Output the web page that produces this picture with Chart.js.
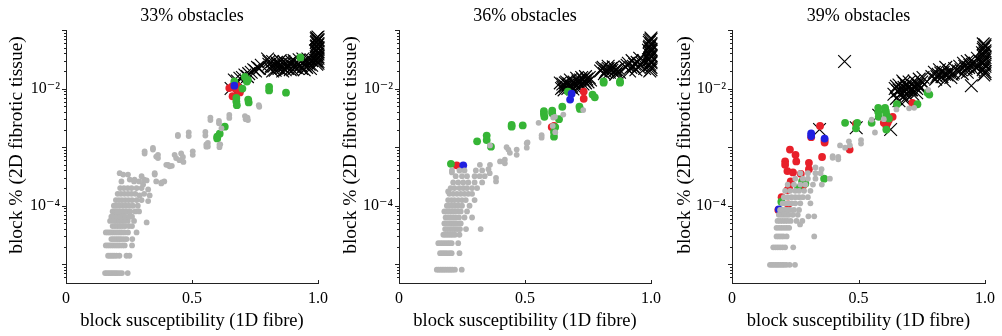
<!DOCTYPE html>
<html>
<head>
<meta charset="utf-8">
<script src="https://cdn.jsdelivr.net/npm/chart.js@4.4.1/dist/chart.umd.min.js"></script>
<style>
  html, body { margin: 0; padding: 0; background: #fff; }
  #wrap { position: relative; width: 1002px; height: 336px; }
  canvas { position: absolute; top: 0; }
</style>
</head>
<body>
<div id="wrap">
  <canvas id="p33" width="334" height="336" style="left:0px"></canvas>
  <canvas id="p36" width="334" height="336" style="left:334px"></canvas>
  <canvas id="p39" width="334" height="336" style="left:668px"></canvas>
</div>
<script>
// [block susceptibility, block %] pairs per obstacle density
const titles = ['33% obstacles', '36% obstacles', '39% obstacles'];
const xTickLabels = ['0', '0.5', '1.0'];
const yTickLabels = { '-2': '10⁻²', '-4': '10⁻⁴' };
const xTitle = 'block susceptibility (1D fibre)';
const yTitle = 'block % (2D fibrotic tissue)';

const grey33 = [
  [0.155,7.1e-6],[0.162,7.1e-6],[0.169,7.1e-6],[0.176,7.1e-6],[0.183,7.1e-6],[0.19,7.1e-6],[0.197,7.1e-6],[0.204,7.1e-6],[0.213,7.1e-6],[0.222,7.1e-6],[0.245,7.1e-6],
  [0.167,1.4e-5],[0.175,1.4e-5],[0.183,1.4e-5],[0.191,1.4e-5],[0.2,1.4e-5],[0.212,1.4e-5],[0.24,1.4e-5],[0.252,1.4e-5],
  [0.158,2.1e-5],[0.166,2.1e-5],[0.174,2.1e-5],[0.182,2.1e-5],[0.19,2.1e-5],[0.198,2.1e-5],[0.206,2.1e-5],[0.214,2.1e-5],[0.224,2.1e-5],[0.233,2.1e-5],[0.262,2.1e-5],
  [0.18,2.7e-5],[0.188,2.7e-5],[0.196,2.7e-5],[0.204,2.7e-5],[0.212,2.7e-5],[0.22,2.7e-5],[0.23,2.7e-5],[0.24,2.7e-5],[0.263,2.7e-5],
  [0.158,3.5e-5],[0.166,3.5e-5],[0.174,3.5e-5],[0.182,3.5e-5],[0.19,3.5e-5],[0.198,3.5e-5],[0.206,3.5e-5],[0.214,3.5e-5],[0.222,3.5e-5],[0.232,3.5e-5],[0.246,3.5e-5],[0.28,3.5e-5],
  [0.185,4.5e-5],[0.195,4.5e-5],[0.205,4.5e-5],[0.215,4.5e-5],[0.225,4.5e-5],[0.235,4.5e-5],[0.25,4.5e-5],[0.262,4.5e-5],
  [0.175,5.5e-5],[0.19,5.5e-5],[0.2,5.5e-5],[0.21,5.5e-5],[0.22,5.5e-5],[0.232,5.5e-5],[0.245,5.5e-5],[0.27,5.5e-5],[0.32,5.2e-5],
  [0.18,6.5e-5],[0.192,6.5e-5],[0.203,6.5e-5],[0.213,6.5e-5],[0.223,6.5e-5],[0.235,6.5e-5],[0.25,6.5e-5],[0.262,6.5e-5],
  [0.185,8e-5],[0.195,8e-5],[0.205,8e-5],[0.215,8e-5],[0.227,8e-5],[0.24,8e-5],[0.255,8e-5],[0.275,8e-5],[0.29,8e-5],
  [0.19,1e-4],[0.2,1e-4],[0.212,1e-4],[0.225,1e-4],[0.237,1e-4],[0.25,1e-4],[0.265,1e-4],[0.285,1e-4],
  [0.198,1.25e-4],[0.21,1.25e-4],[0.222,1.25e-4],[0.235,1.25e-4],[0.248,1.25e-4],[0.262,1.25e-4],[0.28,1.25e-4],[0.3,1.25e-4],[0.326,1.2e-4],
  [0.205,1.6e-4],[0.218,1.6e-4],[0.232,1.6e-4],[0.246,1.6e-4],[0.26,1.6e-4],[0.275,1.6e-4],[0.292,1.5e-4],[0.31,1.6e-4],[0.332,1.5e-4],
  [0.215,2e-4],[0.23,2e-4],[0.245,2e-4],[0.26,2e-4],[0.28,2e-4],[0.3,2e-4],[0.326,1.9e-4],
  [0.22,2.6e-4],[0.253,2.8e-4],[0.27,2.6e-4],[0.29,2.6e-4],[0.306,2.3e-4],[0.358,2.6e-4],
  [0.213,3.6e-4],[0.246,3.4e-4],[0.3,3.2e-4],[0.352,3.4e-4],[0.378,2.4e-4],[0.227,3.4e-4],[0.272,2.8e-4],[0.31,2.8e-4],[0.32,2.7e-4],
  [0.352,3.6e-4],[0.38,2.5e-4],[0.39,2.6e-4],[0.405,5e-4],[0.42,4.8e-4],
  [0.312,8.5e-4],[0.312,7.8e-4],[0.345,9.7e-4],[0.345,9.1e-4],[0.365,7.4e-4],[0.365,6.5e-4],[0.358,6.9e-4],[0.398,5e-4],[0.411,4.7e-4],
  [0.431,7.4e-4],[0.437,6.5e-4],[0.45,6e-4],[0.457,7.8e-4],[0.464,6.8e-4],[0.466,5.6e-4],[0.503,8.5e-4],[0.503,7.4e-4],
  [0.563,1.18e-3],[0.563,1.03e-3],[0.609,1.1e-3],[0.609,1.0e-3],[0.612,1.12e-3],
  [0.444,1.62e-3],[0.444,1.55e-3],[0.487,1.78e-3],[0.487,1.55e-3],[0.553,1.82e-3],[0.553,1.58e-3],[0.557,1.12e-3],[0.557,1.02e-3],
  [0.573,3.2e-3],[0.573,2.9e-3],[0.607,2.8e-3],[0.607,2.55e-3],[0.617,2.1e-3],[0.648,3.55e-3],[0.648,3.15e-3],
  [0.71,3.4e-3],[0.713,3.0e-3],[0.72,3.2e-3],[0.722,2.9e-3],[0.765,5.2e-3],[0.767,4.9e-3]
];
const green33 = [
  [0.93,3.4e-2],[0.668,1.32e-2],[0.71,1.58e-2],[0.718,1.32e-2],[0.722,1.41e-2],[0.806,1.07e-2],[0.806,9.3e-3],[0.873,8.5e-3],
  [0.70,1.0e-2],[0.676,6.9e-3],[0.676,6.0e-3],[0.678,5.2e-3],[0.723,6.5e-3],[0.725,5.8e-3],
  [0.63,2.24e-3],[0.61,1.7e-3],[0.60,1.51e-3],[0.60,1.41e-3]
];
const red33 = [
  [0.648,1.02e-2],[0.661,1.1e-2],[0.681,1.1e-2],[0.694,9.6e-3],[0.675,7.4e-3],[0.661,7.4e-3],[0.69,8.6e-3],[0.672,1.0e-2]
];
const blue33 = [[0.668,1.12e-2]];
const cross33 = [
  [0.655,1.0e-2],[0.668,1.4e-2],[0.68,1.35e-2],[0.69,1.5e-2],[0.70,1.55e-2],[0.71,1.7e-2],[0.72,1.6e-2],[0.725,1.8e-2],
  [0.735,1.9e-2],[0.745,2.1e-2],[0.752,2.0e-2],[0.76,2.3e-2],[0.768,2.2e-2],[0.775,2.5e-2],
  [0.80,3.2e-2],[0.805,2.6e-2],[0.81,2.2e-2],[0.82,2.9e-2],[0.825,2.4e-2],[0.83,2.05e-2],[0.84,2.6e-2],[0.845,2.2e-2],
  [0.85,3.0e-2],[0.855,2.4e-2],[0.86,2.0e-2],[0.87,2.7e-2],[0.875,2.3e-2],[0.88,2.55e-2],[0.89,2.1e-2],[0.895,2.9e-2],
  [0.9,2.4e-2],[0.91,2.65e-2],[0.92,2.2e-2],[0.925,3.1e-2],[0.93,2.5e-2],[0.94,2.8e-2],[0.945,2.1e-2],[0.95,2.4e-2],
  [0.96,3.2e-2],[0.965,2.6e-2],[0.97,2.2e-2],
  [0.805,2.9e-2],[0.815,2.45e-2],[0.82,2.0e-2],[0.835,2.8e-2],[0.84,2.3e-2],[0.85,2.6e-2],[0.86,2.3e-2],[0.865,2.9e-2],
  [0.87,2.1e-2],[0.88,2.2e-2],[0.885,2.7e-2],[0.9,2.1e-2],[0.905,3.0e-2],[0.91,2.3e-2],[0.92,2.6e-2],[0.935,2.2e-2],
  [0.94,3.2e-2],[0.95,2.7e-2],[0.955,2.3e-2],[0.96,2.9e-2],[0.975,2.5e-2],[0.975,3.0e-2],
  [0.995,2.6e-2],[1.0,2.9e-2],[0.995,3.2e-2],[1.0,3.5e-2],[0.995,3.8e-2],[1.0,4.2e-2],[0.995,4.6e-2],[1.0,5.0e-2],
  [0.995,5.4e-2],[1.0,5.9e-2],[0.995,6.4e-2],[1.0,6.9e-2],[0.995,7.4e-2],[0.99,3.0e-2],[0.99,4.4e-2],
  [1.0,2.7e-2],[0.993,3.0e-2],[1.0,3.3e-2],[0.993,3.5e-2],[1.0,3.9e-2],[0.993,4.4e-2],[1.0,4.8e-2],[0.993,5.2e-2],
  [1.0,5.6e-2],[0.993,6.1e-2],[1.0,6.6e-2],[0.993,7.1e-2],[1.0,7.6e-2]
];

const grey36 = [
  [0.15,8.1e-6],[0.157,8.1e-6],[0.164,8.1e-6],[0.171,8.1e-6],[0.178,8.1e-6],[0.185,8.1e-6],[0.192,8.1e-6],[0.199,8.1e-6],[0.206,8.1e-6],[0.213,8.1e-6],[0.222,8.1e-6],[0.249,8.1e-6],
  [0.163,1.55e-5],[0.172,1.55e-5],[0.181,1.55e-5],[0.19,1.55e-5],[0.2,1.55e-5],[0.209,1.55e-5],[0.24,1.55e-5],
  [0.156,2.3e-5],[0.165,2.3e-5],[0.174,2.3e-5],[0.183,2.3e-5],[0.192,2.3e-5],[0.2,2.3e-5],[0.209,2.3e-5],[0.235,2.3e-5],
  [0.176,3.2e-5],[0.185,3.2e-5],[0.194,3.2e-5],[0.203,3.2e-5],[0.212,3.2e-5],[0.222,3.2e-5],[0.24,3.2e-5],
  [0.183,4e-5],[0.193,4e-5],[0.203,4e-5],[0.213,4e-5],[0.222,4e-5],[0.232,4e-5],[0.242,4e-5],[0.266,4e-5],[0.324,4e-5],
  [0.18,5e-5],[0.19,5e-5],[0.2,5e-5],[0.21,5e-5],[0.22,5e-5],[0.23,5e-5],[0.245,5e-5],
  [0.185,6.3e-5],[0.195,6.3e-5],[0.205,6.3e-5],[0.215,6.3e-5],[0.225,6.3e-5],[0.238,6.3e-5],[0.26,6.3e-5],[0.29,6.3e-5],
  [0.18,8e-5],[0.19,8e-5],[0.2,8e-5],[0.21,8e-5],[0.22,8e-5],[0.232,8e-5],[0.245,8e-5],[0.27,8e-5],
  [0.19,1e-4],[0.2,1e-4],[0.212,1e-4],[0.224,1e-4],[0.236,1e-4],[0.25,1e-4],[0.28,1e-4],
  [0.195,1.25e-4],[0.208,1.25e-4],[0.22,1.25e-4],[0.235,1.25e-4],[0.25,1.25e-4],[0.265,1.25e-4],[0.3,1.25e-4],
  [0.2,1.6e-4],[0.215,1.6e-4],[0.23,1.6e-4],[0.245,1.6e-4],[0.26,1.6e-4],[0.275,1.6e-4],[0.29,1.6e-4],[0.195,1.75e-4],
  [0.205,2e-4],[0.22,2e-4],[0.24,2e-4],[0.255,2e-4],[0.27,2e-4],[0.29,2e-4],[0.31,2e-4],
  [0.215,2.5e-4],[0.235,2.5e-4],[0.255,2.5e-4],[0.275,2.5e-4],[0.3,2.5e-4],[0.33,2.5e-4],
  [0.225,3.2e-4],[0.25,3.2e-4],[0.27,3.2e-4],[0.3,3.2e-4],[0.32,3.2e-4],[0.34,3.2e-4],
  [0.21,3.7e-4],[0.21,4.0e-4],[0.24,4e-4],[0.26,4e-4],[0.305,4e-4],[0.33,4e-4],[0.355,4.2e-4],[0.36,3.6e-4],[0.385,2.6e-4],[0.385,3.0e-4],
  [0.321,5e-4],[0.361,5e-4],[0.401,5.7e-4],[0.42,6.1e-4],[0.42,5.3e-4],[0.434,9.1e-4],[0.44,8e-4],[0.467,9.1e-4],[0.467,7.4e-4],
  [0.507,1.17e-3],[0.507,9.8e-4],[0.427,1.0e-3],[0.361,1.07e-3],[0.51,1.2e-3],
  [0.554,2.6e-3],[0.566,1.6e-3],[0.566,1.45e-3],[0.612,3.2e-3],[0.619,3.3e-3],[0.652,3.6e-3],[0.731,4.3e-3],[0.61,2.3e-3],[0.62,1.8e-3]
];
const green36 = [
  [0.206,5.2e-4],[0.31,1.26e-3],[0.348,1.58e-3],[0.348,1.32e-3],[0.365,1.02e-3],[0.447,2.4e-3],[0.447,2.24e-3],[0.491,2.35e-3],
  [0.575,4.1e-3],[0.575,3.7e-3],[0.577,3.3e-3],[0.608,4.2e-3],[0.608,3.8e-3],[0.635,3.0e-3],[0.648,4.9e-3],
  [0.62,2.2e-3],[0.615,1.82e-3],[0.615,1.51e-3],[0.67,8.9e-3],[0.716,4.9e-3],[0.718,4.5e-3],[0.768,7.9e-3],[0.777,7.1e-3],
  [0.812,1.32e-2],[0.812,1.26e-2],[0.877,1.32e-2],[0.877,1.26e-2]
];
const red36 = [[0.229,4.9e-4],[0.606,2.2e-3],[0.615,2.3e-3],[0.733,8.9e-3],[0.733,6.7e-3]];
const blue36 = [[0.255,4.9e-4],[0.685,8.2e-3],[0.679,6.5e-3]];
const cross36 = [
  [0.645,1.0e-2],[0.65,1.2e-2],[0.655,9.5e-3],[0.66,1.1e-2],[0.665,1.3e-2],[0.67,1.0e-2],[0.675,1.2e-2],[0.68,1.4e-2],
  [0.685,1.1e-2],[0.69,9.8e-3],[0.695,1.3e-2],[0.70,1.15e-2],[0.705,1.5e-2],[0.71,1.05e-2],[0.715,1.25e-2],[0.72,1.4e-2],
  [0.725,1.55e-2],[0.73,1.2e-2],[0.735,1.35e-2],[0.74,1.6e-2],[0.745,1.45e-2],[0.75,1.3e-2],[0.755,1.55e-2],[0.64,1.25e-2],
  [0.65,1.05e-2],[0.66,1.25e-2],[0.67,1.15e-2],[0.68,1.05e-2],[0.69,1.25e-2],[0.70,1.05e-2],[0.71,1.35e-2],[0.72,1.15e-2],
  [0.73,1.45e-2],[0.74,1.25e-2],[0.76,1.4e-2],
  [0.8,2.0e-2],[0.81,2.3e-2],[0.815,1.8e-2],[0.825,2.1e-2],[0.83,2.4e-2],[0.835,1.9e-2],[0.84,2.2e-2],[0.85,2.35e-2],
  [0.855,2.0e-2],[0.86,1.75e-2],[0.87,2.2e-2],[0.875,1.9e-2],
  [0.805,2.2e-2],[0.82,1.95e-2],[0.83,2.2e-2],[0.845,2.05e-2],[0.86,2.1e-2],[0.865,1.9e-2],
  [0.9,2.3e-2],[0.91,2.7e-2],[0.915,2.0e-2],[0.925,3.0e-2],[0.93,2.4e-2],[0.94,2.1e-2],[0.945,2.8e-2],[0.955,3.3e-2],
  [0.96,2.5e-2],[0.97,3.0e-2],[0.975,2.2e-2],
  [0.905,2.5e-2],[0.92,2.3e-2],[0.935,2.6e-2],[0.95,2.4e-2],[0.965,2.7e-2],
  [0.995,2.0e-2],[1.0,2.3e-2],[0.995,2.6e-2],[1.0,2.9e-2],[0.995,3.3e-2],[1.0,3.7e-2],[0.995,4.2e-2],[1.0,4.7e-2],
  [0.995,5.3e-2],[1.0,5.9e-2],[0.995,6.6e-2],[1.0,7.3e-2],[0.99,3.1e-2],[0.99,4.5e-2],
  [1.0,2.1e-2],[0.993,2.45e-2],[1.0,2.75e-2],[0.993,3.1e-2],[1.0,3.5e-2],[0.993,3.9e-2],[1.0,4.4e-2],[0.993,5.0e-2],
  [1.0,5.6e-2],[0.993,6.2e-2],[1.0,6.9e-2]
];

const grey39 = [
  [0.15,9.8e-6],[0.157,9.8e-6],[0.164,9.8e-6],[0.171,9.8e-6],[0.178,9.8e-6],[0.185,9.8e-6],[0.192,9.8e-6],[0.199,9.8e-6],[0.206,9.8e-6],[0.215,9.8e-6],[0.228,9.8e-6],[0.249,9.8e-6],
  [0.163,1.95e-5],[0.172,1.95e-5],[0.181,1.95e-5],[0.19,1.95e-5],[0.2,1.95e-5],[0.21,1.95e-5],[0.242,1.95e-5],
  [0.176,3e-5],[0.185,3e-5],[0.194,3e-5],[0.203,3e-5],[0.216,3e-5],[0.325,3e-5],
  [0.176,4.2e-5],[0.186,4.2e-5],[0.196,4.2e-5],[0.206,4.2e-5],[0.216,4.2e-5],[0.226,4.2e-5],[0.269,4.8e-5],
  [0.18,5.5e-5],[0.19,5.5e-5],[0.2,5.5e-5],[0.21,5.5e-5],[0.22,5.5e-5],[0.232,5.5e-5],[0.255,5.5e-5],[0.278,5.5e-5],
  [0.185,7e-5],[0.195,7e-5],[0.205,7e-5],[0.215,7e-5],[0.225,7e-5],[0.24,7e-5],[0.26,7e-5],[0.302,6.6e-5],[0.325,6.6e-5],
  [0.19,8.5e-5],[0.2,8.5e-5],[0.21,8.5e-5],[0.22,8.5e-5],[0.23,8.5e-5],[0.245,8.5e-5],[0.265,8.5e-5],
  [0.2,1.1e-4],[0.212,1.1e-4],[0.224,1.1e-4],[0.236,1.1e-4],[0.25,1.1e-4],[0.27,1.1e-4],[0.31,1.1e-4],
  [0.205,1.4e-4],[0.22,1.4e-4],[0.235,1.4e-4],[0.25,1.4e-4],[0.265,1.4e-4],[0.28,1.4e-4],[0.3,1.4e-4],
  [0.21,1.8e-4],[0.23,1.8e-4],[0.25,1.8e-4],[0.265,1.8e-4],[0.285,1.8e-4],[0.31,1.8e-4],
  [0.22,2.3e-4],[0.245,2.3e-4],[0.27,2.3e-4],[0.29,2.3e-4],[0.32,2.3e-4],[0.355,2.3e-4],
  [0.25,2.9e-4],[0.28,2.9e-4],[0.3,2.9e-4],[0.33,2.9e-4],[0.387,2.9e-4],
  [0.27,3.6e-4],[0.3,3.6e-4],[0.33,3.6e-4],[0.35,3.6e-4],[0.33,4.5e-4],[0.354,4.2e-4],
  [0.398,7e-4],[0.398,6.6e-4],[0.42,6.8e-4],[0.42,6.2e-4],[0.427,1.07e-3],[0.447,9.8e-4],[0.462,1.26e-3],[0.466,1.07e-3],
  [0.51,1.32e-3],[0.51,1.15e-3],[0.552,2.95e-3],[0.565,1.78e-3],[0.6,3.0e-3],[0.65,4.4e-3],[0.7,4.6e-3],[0.72,4.7e-3],[0.776,9.5e-3]
];
const green39 = [
  [0.195,1.17e-4],[0.261,2.0e-4],[0.277,2.6e-4],[0.29,2.4e-4],[0.364,2.9e-4],[0.447,2.6e-3],[0.49,2.1e-3],[0.495,2.6e-3],
  [0.552,2.6e-3],[0.578,4.7e-3],[0.578,4.0e-3],[0.58,3.3e-3],[0.605,4.7e-3],[0.608,4.1e-3],[0.61,3.6e-3],[0.62,3.1e-3],
  [0.652,5.4e-3],[0.733,5.4e-3],[0.773,8.5e-3],[0.78,7.9e-3],[0.61,2.0e-3]
];
const red39 = [
  [0.183,8.5e-5],[0.196,1.4e-4],[0.222,1.05e-4],[0.229,9.1e-4],[0.21,5.7e-4],[0.21,5.0e-4],[0.251,7.4e-4],[0.254,5.7e-4],
  [0.219,3.9e-4],[0.241,3.7e-4],[0.272,3.5e-4],[0.281,2.2e-4],[0.232,2.6e-4],[0.226,2.1e-4],[0.219,1.85e-4],
  [0.304,5.4e-4],[0.304,4.2e-4],[0.356,6.8e-4],[0.348,2.3e-3],[0.313,1.48e-3],[0.366,1.3e-3],[0.366,1.2e-3],
  [0.465,9.1e-4],[0.49,2.5e-3],[0.6,2.6e-3],[0.61,2.3e-3],[0.62,2.9e-3],[0.635,3.3e-3],[0.615,2.6e-3],[0.713,5.7e-3]
];
const blue39 = [[0.313,1.72e-3],[0.313,1.55e-3],[0.366,1.4e-3],[0.185,8.7e-5]];
const cross39 = [
  [0.445,2.9e-2],[0.346,2.0e-3],[0.491,2.15e-3],[0.627,2.0e-3],[0.946,1.12e-2],[0.58,3.5e-3],
  [0.64,8e-3],[0.645,1.0e-2],[0.65,6.8e-3],[0.655,9e-3],[0.66,1.15e-2],[0.665,8e-3],[0.67,1.0e-2],[0.675,7e-3],
  [0.68,1.25e-2],[0.685,9e-3],[0.69,1.1e-2],[0.695,7.5e-3],[0.70,1.3e-2],[0.705,9.5e-3],[0.71,1.15e-2],[0.715,8e-3],
  [0.72,1.35e-2],[0.725,1.05e-2],[0.73,8.5e-3],[0.735,1.2e-2],[0.74,1.45e-2],[0.745,1.0e-2],[0.75,1.3e-2],[0.755,1.55e-2],
  [0.76,1.2e-2],[0.675,1.35e-2],[0.69,6.5e-3],[0.66,6.2e-3],
  [0.65,1.1e-2],[0.66,9.5e-3],[0.67,8.5e-3],[0.68,1.05e-2],[0.69,9.5e-3],[0.70,1.1e-2],[0.71,9.5e-3],[0.72,1.1e-2],
  [0.73,1.0e-2],[0.74,1.1e-2],
  [0.79,1.6e-2],[0.8,1.9e-2],[0.805,1.45e-2],[0.815,1.75e-2],[0.82,2.1e-2],[0.83,1.6e-2],[0.835,1.9e-2],[0.845,2.3e-2],
  [0.85,1.7e-2],[0.86,2.0e-2],[0.865,1.55e-2],[0.875,1.85e-2],[0.88,2.2e-2],[0.84,1.35e-2],
  [0.81,1.6e-2],[0.825,1.85e-2],[0.84,1.75e-2],[0.855,1.9e-2],[0.87,1.75e-2],
  [0.895,2.0e-2],[0.9,2.4e-2],[0.91,1.8e-2],[0.915,2.7e-2],[0.925,2.2e-2],[0.93,1.9e-2],[0.94,2.5e-2],[0.945,3.0e-2],
  [0.955,2.1e-2],[0.96,2.7e-2],[0.97,3.3e-2],[0.975,2.4e-2],[0.93,2.9e-2],
  [0.905,2.1e-2],[0.92,2.4e-2],[0.935,2.3e-2],[0.95,2.6e-2],[0.965,2.3e-2],[0.98,2.9e-2],
  [0.995,1.7e-2],[1.0,1.95e-2],[0.995,2.25e-2],[1.0,2.6e-2],[0.995,3.0e-2],[1.0,3.4e-2],[0.995,3.9e-2],[1.0,4.4e-2],
  [0.995,5.0e-2],[1.0,5.6e-2],[0.99,2.8e-2],[0.99,4.1e-2],
  [1.0,1.8e-2],[0.993,2.1e-2],[1.0,2.4e-2],[0.993,2.75e-2],[1.0,3.1e-2],[0.993,3.6e-2],[1.0,4.1e-2],[0.993,4.7e-2],
  [1.0,5.3e-2],[0.993,5.8e-2]
];

const greyColor = '#b4b4b4';
const greenColor = '#36b536';
const redColor = '#e8202a';
const blueColor = '#2020e0';
const axisColor = '#222';
const serif = "'Liberation Serif', 'DejaVu Serif', serif";

Chart.defaults.font.family = serif;
Chart.defaults.color = '#000';

// outward log ticks on y, small inward ticks on x, rotated y title
const axisTicks = {
  id: 'axisTicks',
  afterDraw(chart) {
    const { ctx, chartArea, scales: { x, y } } = chart;
    ctx.save();
    ctx.strokeStyle = axisColor;
    ctx.lineWidth = 1;
    ctx.beginPath();
    y.ticks.forEach(t => {
      const e = Math.floor(Math.log10(t.value) + 1e-9);
      const m = t.value / Math.pow(10, e);
      if (Math.abs(m - Math.round(m)) > 1e-6) return;
      const len = Math.round(m) === 1 ? 4 : 2;
      const py = Math.round(y.getPixelForValue(t.value)) + 0.5;
      ctx.moveTo(chartArea.left, py);
      ctx.lineTo(chartArea.left - len, py);
    });
    x.ticks.forEach(t => {
      const px = Math.round(x.getPixelForValue(t.value)) + 0.5;
      ctx.moveTo(px, chartArea.bottom);
      ctx.lineTo(px, chartArea.bottom - 3);
    });
    ctx.stroke();

    ctx.translate(17, chartArea.top + 115);
    ctx.rotate(-Math.PI / 2);
    ctx.font = '19.5px ' + serif;
    ctx.fillStyle = '#000';
    ctx.textAlign = 'center';
    ctx.textBaseline = 'middle';
    ctx.fillText(yTitle, 0, 0);
    ctx.restore();
  }
};

function toPoints(list) {
  return list.map(p => ({ x: p[0], y: p[1] }));
}

function dotSet(list, color, radius) {
  return {
    data: toPoints(list),
    pointStyle: 'circle',
    pointRadius: radius,
    pointHoverRadius: radius,
    backgroundColor: color,
    borderWidth: 0,
    clip: false
  };
}

function makePanel(id, title, grey, green, red, blue, cross, leftW, rightPad) {
  new Chart(document.getElementById(id), {
    type: 'scatter',
    data: {
      datasets: [
        dotSet(grey, greyColor, 2.9),
        dotSet(blue, blueColor, 3.9),
        dotSet(green, greenColor, 3.9),
        dotSet(red, redColor, 3.9),
        {
          data: toPoints(cross),
          pointStyle: 'crossRot',
          pointRadius: 9,
          pointHoverRadius: 9,
          borderColor: '#000',
          borderWidth: 1.15,
          clip: false
        }
      ]
    },
    options: {
      responsive: false,
      animation: false,
      events: [],
      layout: { padding: { left: 0, right: rightPad, top: 0, bottom: 0 } },
      plugins: {
        legend: { display: false },
        tooltip: { enabled: false },
        title: {
          display: true,
          fullSize: false,
          text: title,
          font: { size: 18, weight: 'normal' },
          color: '#000',
          padding: { top: 5, bottom: 3.4 }
        }
      },
      scales: {
        x: {
          type: 'linear',
          min: 0,
          max: 1,
          grid: { display: false, drawTicks: false },
          border: { display: true, color: axisColor, width: 1 },
          ticks: {
            stepSize: 0.5,
            padding: 6,
            font: { size: 16 },
            color: '#000',
            callback: (v, i) => xTickLabels[i]
          },
          title: {
            display: true,
            text: xTitle,
            font: { size: 18.5 },
            color: '#000',
            padding: { top: 0, bottom: 4 }
          },
          afterFit: s => { s.height = 53; }
        },
        y: {
          type: 'logarithmic',
          min: 4.8e-6,
          max: 0.1,
          grid: { display: false, drawTicks: false },
          border: { display: true, color: axisColor, width: 1 },
          ticks: {
            autoSkip: false,
            padding: 6,
            font: { size: 16 },
            color: '#000',
            callback: v => yTickLabels[String(Math.round(Math.log10(v) * 1000) / 1000)] || ''
          },
          afterFit: s => { s.width = leftW; }
        }
      }
    },
    plugins: [axisTicks]
  });
}

makePanel('p33', titles[0], grey33, green33, red33, blue33, cross33, 66, 15);
makePanel('p36', titles[1], grey36, green36, red36, blue36, cross36, 65, 17);
makePanel('p39', titles[2], grey39, green39, red39, blue39, cross39, 64, 17);
</script>
</body>
</html>
